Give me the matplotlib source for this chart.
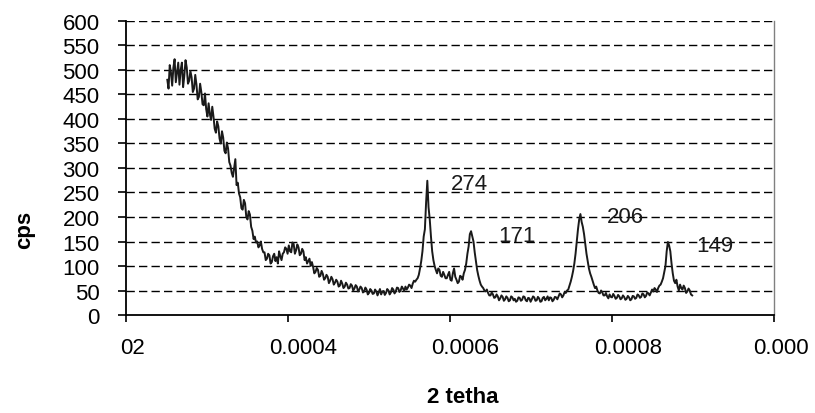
import numpy as np
import matplotlib
matplotlib.use("Agg")
import matplotlib.pyplot as plt
from matplotlib.transforms import ScaledTranslation

plt.rcParams['font.family'] = ['Liberation Sans', 'DejaVu Sans']

# scan: 2-theta start and step, counts
x_start = 0.000251
x_step = 0.0000015
cps = [
    480, 462, 510, 495, 468, 505, 522, 475, 495, 515,
    470, 500, 515, 465, 488, 520, 505, 472, 478, 498,
    485, 455, 462, 490, 470, 440, 445, 472, 455, 430,
    428, 452, 420, 405, 432, 410, 398, 425, 405, 380,
    372, 395, 385, 360, 350, 375, 362, 335, 330, 352,
    340, 312, 305, 290, 282, 300, 318, 265, 270, 248,
    240, 218, 215, 235, 228, 200, 195, 212, 205, 180,
    172, 155, 160, 148, 150, 138, 142, 150, 135, 128,
    128, 112, 115, 125, 122, 105, 108, 120, 125, 110,
    118, 105, 130, 120, 112, 125, 128, 138, 135, 125,
    142, 130, 128, 148, 145, 125, 132, 144, 138, 122,
    125, 135, 130, 112, 118, 105, 110, 115, 100, 108,
    98, 85, 88, 96, 92, 78, 80, 90, 84, 72,
    75, 82, 78, 65, 70, 78, 73, 62, 66, 72,
    68, 58, 60, 70, 64, 55, 58, 66, 62, 54,
    55, 63, 60, 50, 54, 61, 58, 48, 52, 58,
    55, 46, 48, 56, 52, 42, 45, 53, 50, 43,
    44, 52, 48, 40, 46, 53, 42, 48, 49, 41,
    45, 53, 50, 42, 46, 55, 52, 44, 48, 56,
    55, 47, 50, 58, 54, 49, 58, 52, 56, 62,
    60, 55, 64, 70, 68, 72, 75, 82, 95, 110,
    130, 160, 175, 230, 274, 220, 195, 160, 130, 112,
    100, 92, 85, 95, 92, 80, 78, 88, 82, 75,
    75, 82, 88, 72, 70, 85, 95, 78, 72, 65,
    68, 80, 78, 72, 85, 92, 105, 125, 140, 165,
    171, 160, 150, 128, 110, 92, 80, 70, 62, 58,
    55, 50, 48, 52, 45, 40, 40, 46, 42, 35,
    36, 42, 38, 30, 34, 40, 37, 29, 32, 38,
    35, 28, 30, 38, 36, 30, 33, 27, 29, 36,
    35, 29, 31, 38, 37, 30, 28, 35, 34, 27,
    32, 38, 36, 29, 30, 37, 34, 27, 28, 35,
    37, 30, 33, 38, 30, 36, 35, 28, 31, 37,
    36, 32, 38, 44, 42, 36, 40, 47, 45, 50,
    52, 60, 68, 78, 90, 105, 125, 150, 175, 195,
    206, 190, 180, 165, 145, 125, 110, 95, 85, 78,
    70, 62, 55, 58, 50, 45, 44, 50, 46, 40,
    40, 45, 38, 34, 42, 37, 36, 43, 39, 33,
    35, 41, 38, 32, 34, 40, 37, 31, 33, 39,
    36, 30, 32, 39, 38, 33, 35, 42, 40, 35,
    37, 44, 42, 36, 39, 46, 44, 40, 46, 52,
    48, 55, 52, 47, 55, 60, 62, 68, 75, 88,
    100, 130, 149, 142, 130, 105, 85, 70, 65, 72,
    58, 50, 62, 55, 52, 60, 55, 45, 48, 54,
    50, 42, 40,
]
two_theta = x_start + x_step * np.arange(len(cps))

x_ticks = [0.0002, 0.0004, 0.0006, 0.0008, 0.0010]
x_tick_labels = ["02", "0.0004", "0.0006", "0.0008", "0.000"]
y_ticks = list(range(0, 601, 50))

peak_labels = ["274", "171", "206", "149"]
peak_label_x = [0.000601, 0.000659, 0.000794, 0.000904]
peak_label_y = [269, 163, 200, 141]

fig = plt.figure(figsize=(8.15, 4.14), dpi=100)
ax = fig.add_axes([0.1546, 0.2367, 0.9497 - 0.1546, 0.9469 - 0.2367])

ax.plot(two_theta, cps, color='#1a1a1a', lw=1.4, zorder=3)

ax.set_xlim(0.0002, 0.0010)
ax.set_ylim(0, 600)
ax.set_yticks(y_ticks)
ax.set_xticks(x_ticks)
ax.set_xticklabels(x_tick_labels)

for yv in y_ticks[1:]:
    ax.axhline(yv, color='black', lw=1.0, linestyle=(0, (6, 3)), zorder=1)

fs = 16
ax.tick_params(axis='y', direction='out', length=6, width=1.2, pad=13, labelsize=fs)
ax.tick_params(axis='x', direction='out', length=5, width=1.2, pad=11, labelsize=fs)

offsets = [7, 15, 15, 16, 7]
for lab, dx in zip(ax.get_xticklabels(), offsets):
    lab.set_transform(lab.get_transform() + ScaledTranslation(dx / 100, 0, fig.dpi_scale_trans))

ax.spines['top'].set_visible(False)
ax.spines['right'].set_color('#808080')
ax.spines['right'].set_linewidth(1.0)
ax.spines['left'].set_linewidth(1.3)
ax.spines['bottom'].set_linewidth(1.3)

for t, xv, yv in zip(peak_labels, peak_label_x, peak_label_y):
    ax.text(xv, yv, t, ha='left', va='center', fontsize=fs, color='#1a1a1a', zorder=4)

fig.text(25 / 815, 1 - 230 / 414, "cps", rotation=90, ha='center', va='center',
         fontsize=fs, fontweight='bold')
fig.text(463 / 815, 1 - 398 / 414, "2 tetha", ha='center', va='center',
         fontsize=fs, fontweight='bold')

fig.savefig("out.png", dpi=100)
